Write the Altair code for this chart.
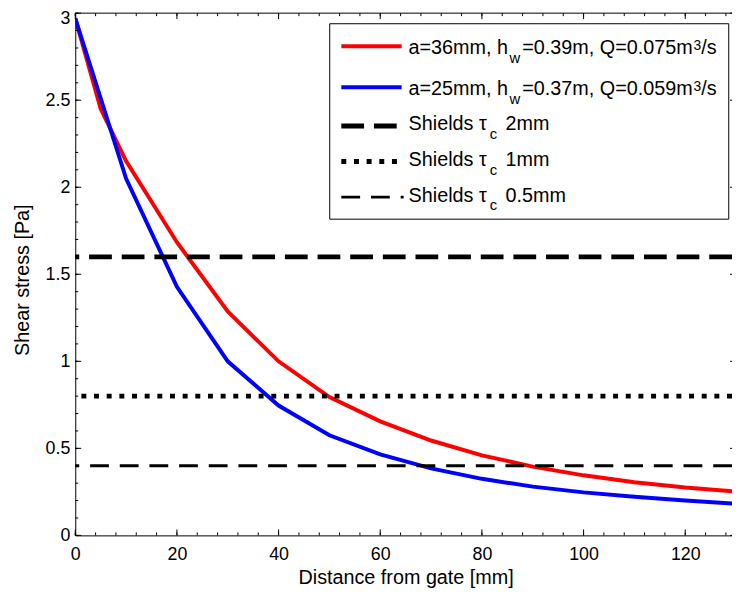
import altair as alt
import pandas as pd

# ---------------- data ----------------
distance = [0, 5, 10, 20, 30, 40, 50, 60, 70, 80, 90, 100, 110, 120, 130]
tau_a36 = [2.97, 2.45, 2.15, 1.684, 1.286, 1.00, 0.795, 0.655, 0.545, 0.46, 0.395, 0.345, 0.305, 0.275, 0.252]
tau_a25 = [2.97, 2.51, 2.05, 1.428, 1.00, 0.746, 0.575, 0.465, 0.385, 0.325, 0.28, 0.247, 0.222, 0.20, 0.182]
shields_tau = [1.6, 0.8, 0.4]
shields_grain = ["2mm", "1mm", "0.5mm"]
x_major = [0, 20, 40, 60, 80, 100, 120]
x_minor = list(range(0, 129, 4))
y_major = [0, 0.5, 1, 1.5, 2, 2.5, 3]
y_minor = [round(0.1 * i, 1) for i in range(31)]

# ---------------- layout / style ----------------
W, H = 664, 528
X_VISIBLE = 129.2        # the reference crops the 0-130 axis a few pixels short of 130
OX, OY = 76, 10          # page position of plot origin (for legend placement)
FONT = "Liberation Sans"
RED, BLUE = "#ff0000", "#0000ff"
shield_styles = [
    dict(strokeWidth=5, strokeDash=[23, 10]),
    dict(strokeWidth=5, strokeDash=[5, 7.8]),
    dict(strokeWidth=2.8, strokeDash=[19, 11]),
]

xscale = alt.Scale(domain=[0, X_VISIBLE], nice=False, zero=False)
yscale = alt.Scale(domain=[0, 3], nice=False, zero=False)
xaxis = alt.Axis(values=x_major, format="d", labelFlush=False,
                 labelBaseline="alphabetic", labelPadding=24.7,
                 title="Distance from gate [mm]",
                 titleX=334, titleY=48.7, titleBaseline="alphabetic",
                 titleAlign="center")
yaxis = alt.Axis(values=y_major, format="~g", labelPadding=5.5,
                 labelBaseline="middle",
                 labelOffset={"condition": {"test": "datum.value == 3", "value": 5}, "value": 0.5},
                 title="Shear stress [Pa]",
                 titleX=-47, titleY=269.5, titleBaseline="alphabetic",
                 titleAlign="center")
one = pd.DataFrame({"k": [0]})

layers = []

# curves
for vals, col in [(tau_a36, RED), (tau_a25, BLUE)]:
    df = pd.DataFrame({"distance": distance, "tau": vals})
    layers.append(
        alt.Chart(df).mark_line(color=col, strokeWidth=4, clip=True).encode(
            x=alt.X("distance:Q", scale=xscale, axis=xaxis),
            y=alt.Y("tau:Q", scale=yscale, axis=yaxis),
        )
    )

# Shields critical stresses
for v, st in zip(shields_tau, shield_styles):
    layers.append(
        alt.Chart(pd.DataFrame({"tau": [v]})).mark_rule(color="black", **st).encode(
            y=alt.Y("tau:Q", scale=yscale, axis=yaxis)
        )
    )

# inward ticks
def xticks(vals, y0, y1):
    return alt.Chart(pd.DataFrame({"distance": vals})).mark_rule(color="black", strokeWidth=1).encode(
        x=alt.X("distance:Q", scale=xscale, axis=xaxis), y=alt.value(y0), y2=alt.value(y1))

def yticks(vals, x0, x1):
    return alt.Chart(pd.DataFrame({"tau": vals})).mark_rule(color="black", strokeWidth=1).encode(
        y=alt.Y("tau:Q", scale=yscale, axis=yaxis), x=alt.value(x0), x2=alt.value(x1))

layers += [
    xticks(x_minor, H, H - 3), xticks(x_major, H, H - 6),
    xticks(x_minor, 0, 3), xticks(x_major, 0, 6),
    yticks(y_minor, 0, 3), yticks(y_major, 0, 6),
    yticks(y_major, W, W - 2),
    # top frame line
    alt.Chart(one).mark_rule(color="black", strokeWidth=1).encode(
        x=alt.value(0), x2=alt.value(W), y=alt.value(0)),
]

# ---------------- legend (drawn by hand for sub/superscripts) ----------------
layers.append(
    alt.Chart(one).mark_rect(fill="white", stroke="black", strokeWidth=1).encode(
        x=alt.value(333.3 - OX), x2=alt.value(736.7 - OX),
        y=alt.value(20.7 - OY), y2=alt.value(218.3 - OY))
)

samples = [
    (43.5, dict(color=RED, strokeWidth=4), 406),
    (85.0, dict(color=BLUE, strokeWidth=4), 406),
    (124.0, dict(color="black", **shield_styles[0]), 408),
    (160.0, dict(color="black", **shield_styles[1]), 408),
    (196.0, dict(color="black", **shield_styles[2]), 408),
]
for ly, st, xe in samples:
    layers.append(
        alt.Chart(one).mark_rule(**st).encode(
            x=alt.value(345 - OX), x2=alt.value(xe - OX), y=alt.value(ly - OY))
    )

pieces = []
for base, a, h, q in [(51.3, "36", "0.39", "0.075"), (93.0, "25", "0.37", "0.059")]:
    pieces += [
        (f"a={a}mm, h", 413, base, 20),
        ("w", 515, base + 9, 15),
        (f"={h}m, Q={q}m", 528, base, 20),
        ("3", 701, base - 4.5, 14),
        ("/s", 709, base, 20),
    ]
for base, g in zip([128.5, 165.0, 200.7], shields_grain):
    pieces += [
        ("Shields \u03c4", 413, base, 20),
        ("c", 495, base + 8.5, 15),
        (g, 511, base, 20),
    ]

for txt, px, py, fs in pieces:
    layers.append(
        alt.Chart(one).mark_text(text=txt, align="left", baseline="alphabetic",
                                 font=FONT, fontSize=fs, color="black").encode(
            x=alt.value(px - OX), y=alt.value(py - OY))
    )

chart = (
    alt.layer(*layers)
    .properties(width=W, height=H,
                padding={"left": 68, "top": 2, "right": 0, "bottom": 52},
                autosize=alt.AutoSizeParams(type="none"))
    .configure_view(stroke=None)
    .configure_axis(grid=False, domain=True, domainColor="black", domainWidth=1,
                    ticks=False, tickSize=0,
                    labelFont=FONT, labelFontSize=18, labelColor="black",
                    titleFont=FONT, titleFontSize=20, titleFontWeight="normal",
                    titleColor="black")
)

chart.save("out.html", embed_options={"renderer": "svg", "actions": False})
